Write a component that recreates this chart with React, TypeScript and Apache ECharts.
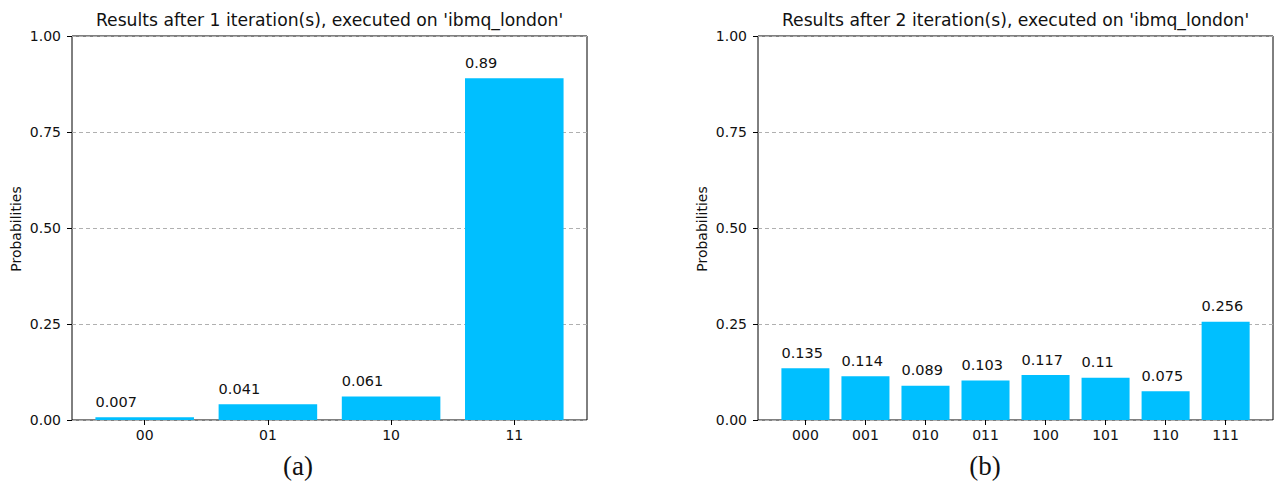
import React, { useEffect, useRef } from "react";
import * as echarts from "echarts";

const catsA = ["00", "01", "10", "11"];
const valsA = [0.007, 0.041, 0.061, 0.89];
const catsB = ["000", "001", "010", "011", "100", "101", "110", "111"];
const valsB = [0.135, 0.114, 0.089, 0.103, 0.117, 0.11, 0.075, 0.256];
const titleA = "Results after 1 iteration(s), executed on 'ibmq_london'";
const titleB = "Results after 2 iteration(s), executed on 'ibmq_london'";

const FONT = "DejaVu Sans";
const TXT = "#111";
const BAR = "#00bfff";

export default function App() {
  const ref = useRef<HTMLDivElement>(null);
  useEffect(() => {
    if (!ref.current) return;
    const chart = echarts.init(ref.current, null, { renderer: "svg" });
    const top = 36, h = 384;
    const panels = [
      { left: 72, width: 515, barLeft: 72 + 0.09 * 123.2, barWidth: 4 * 123.2, cats: catsA, vals: valsA },
      { left: 758, width: 515, barLeft: 758 + 0.29 * 60.03, barWidth: 8 * 60.03, cats: catsB, vals: valsB },
    ];
    const grid: any[] = [];
    const xAxis: any[] = [];
    const yAxis: any[] = [];
    const series: any[] = [];
    panels.forEach((p, i) => {
      grid.push({ left: p.left, top, width: p.width, height: h, show: true, borderColor: "#000", borderWidth: 1, backgroundColor: "transparent" });
      grid.push({ left: p.barLeft, top, width: p.barWidth, height: h });
      const gf = 2 * i, gb = 2 * i + 1;
      xAxis.push({ type: "value", gridIndex: gf, min: 0, max: 1, show: false });
      xAxis.push({
        type: "category", gridIndex: gb, data: p.cats, boundaryGap: true,
        axisLine: { show: false },
        axisTick: { show: true, alignWithLabel: true, length: 5, lineStyle: { color: "#000" } },
        axisLabel: { color: TXT, fontFamily: FONT, fontSize: 14, margin: 8 },
        splitLine: { show: false },
      });
      yAxis.push({
        type: "value", gridIndex: gf, min: 0, max: 1, interval: 0.25,
        axisLine: { show: false },
        axisTick: { show: true, length: 5, lineStyle: { color: "#000" } },
        axisLabel: { color: TXT, fontFamily: FONT, fontSize: 14, margin: 11, formatter: (v: number) => v.toFixed(2) },
        splitLine: { show: true, lineStyle: { color: "#b0b0b0", type: [4, 3], width: 1 } },
      });
      yAxis.push({ type: "value", gridIndex: gb, min: 0, max: 1, show: false, splitLine: { show: false } });
      series.push({
        type: "bar", xAxisIndex: gb, yAxisIndex: gb, data: p.vals, barWidth: "80%",
        itemStyle: { color: BAR },
        label: {
          show: true, position: [0, -8], align: "left", verticalAlign: "bottom",
          color: TXT, fontFamily: FONT, fontSize: 14.5,
          formatter: (d: any) => String(d.value),
        },
      });
    });
    const textEl = (text: string, x: number, y: number, font: string, extra: any = {}) => ({
      type: "text", x, y, ...extra,
      style: { text, font, fill: TXT, align: "center", verticalAlign: "middle" },
    });
    chart.setOption({
      animation: false,
      grid, xAxis, yAxis, series,
      graphic: [
        textEl(titleA, 329.5, 20, `17.2px '${FONT}'`),
        textEl(titleB, 1015.5, 20, `17.2px '${FONT}'`),
        textEl("Probabilities", 16, 229, `14px '${FONT}'`, { rotation: Math.PI / 2 }),
        textEl("Probabilities", 702, 229, `14px '${FONT}'`, { rotation: Math.PI / 2 }),
        textEl("(a)", 298, 466, `27px 'Liberation Serif'`),
        textEl("(b)", 985, 466, `27px 'Liberation Serif'`),
      ],
    });
    return () => chart.dispose();
  }, []);
  return <div ref={ref} style={{ position: "fixed", left: 0, top: 0, width: 1274, height: 482, background: "#fff" }} />;
}
